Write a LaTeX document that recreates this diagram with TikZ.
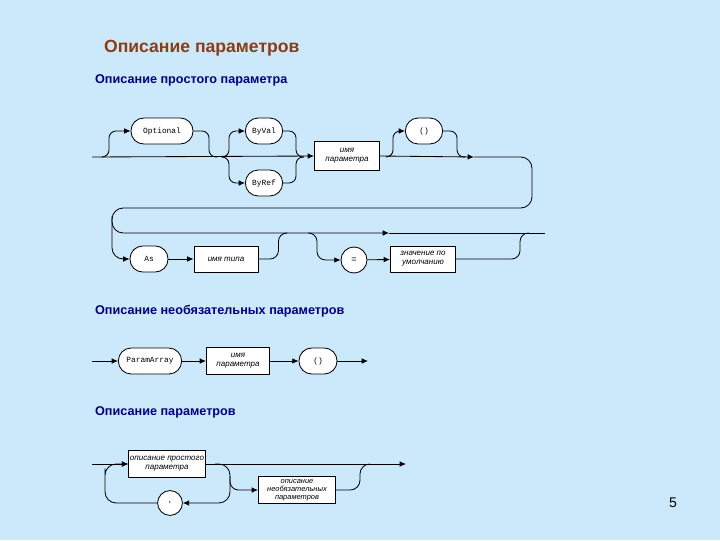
\documentclass[tikz,border=0pt]{standalone}
\usepackage{fontspec}
\setmainfont{Liberation Sans}
\setmonofont{Liberation Mono}
\usetikzlibrary{arrows.meta, calc}

\definecolor{slidebg}{RGB}{204,233,252}
\definecolor{titlebrown}{RGB}{140,60,20}
\definecolor{headnavy}{RGB}{0,0,128}

\tikzset{
    termbox/.style={draw, fill=white, rounded corners=3.2mm, minimum height=0.65cm, inner sep=1pt, font=\ttfamily\fontsize{5.6}{6}\selectfont},
    namebox/.style={draw, fill=white, minimum height=0.65cm, inner sep=1pt, align=center, font=\itshape\fontsize{5.7}{6.4}\selectfont},
    sepcirc/.style={draw, fill=white, circle, minimum size=0.65cm, inner sep=0pt, font=\fontsize{6.5}{7}\selectfont},
    flow/.style={-{Latex[length=4.5pt,width=4pt]}},
    heading/.style={anchor=west, text=headnavy, font=\bfseries\fontsize{9}{11}\selectfont}
}

\begin{document}
\begin{tikzpicture}[x=0.025cm, y=-0.025cm, line width=0.6pt, line join=round]
    % Slide background
    \fill[slidebg] (0,0) rectangle (720,540);
    \useasboundingbox (0,0) rectangle (720,540);

    % Title
    \node[anchor=west, text=titlebrown, font=\bfseries\fontsize{12.5}{14}\selectfont] (title) at (99,48) {Описание параметров};
    \node[heading] (head1) at (90,80) {Описание простого параметра};
    \node[heading] (head2) at (90,311) {Описание необязательных параметров};
    \node[heading] (head3) at (90,412) {Описание параметров};
    \node[font=\fontsize{10}{12}\selectfont] (pageno) at (673,503) {5};

    % Simple parameter
    \node[termbox, minimum width=1.55cm] (opt) at (162,131) {Optional};
    \node[termbox, minimum width=0.93cm] (byval) at (264,131) {ByVal};
    \node[termbox, minimum width=0.93cm] (byref) at (264,183) {ByRef};
    \node[namebox, minimum width=1.63cm, minimum height=0.72cm] (pname) at (347,156) {имя\\параметра};
    \node[termbox, minimum width=0.93cm] (par1) at (424,131) {()};
    \node[termbox, minimum width=0.95cm] (as) at (149,259) {As};
    \node[namebox, minimum width=1.6cm] (tname) at (226,259) {имя типа};
    \node[sepcirc] (eq) at (354,260) {=};
    \node[namebox, minimum width=1.63cm] (defval) at (423,259) {значение по\\умолчанию};

    \coordinate (start1) at (92,157);
    \coordinate (optfork) at (103,157);
    \coordinate (optjoin) at (209,157);
    \coordinate (refork) at (222,157);
    \coordinate (parfork) at (386,157);
    \coordinate (mainarr) at (474,157);
    \coordinate (wrapright) at (532,208);
    \coordinate (wrapleft) at (112,208);
    \coordinate (skipfork) at (112,216);
    \coordinate (skiparr) at (389,233);
    \coordinate (end1) at (545,233);
    \coordinate (eqfork) at (309,233);

    \draw[flow] (start1) -- (pname.west);
    \draw[flow, rounded corners=5pt] (optfork) -- ++(6,0) |- (opt.west);
    \draw[rounded corners=5pt] (opt.east) -| (optjoin) -- ++(8,0);
    \draw[flow, rounded corners=5pt] (refork) -- ++(7,0) |- (byval.west);
    \draw[flow, rounded corners=5pt] (refork) -- ++(7,0) |- (byref.west);
    \draw[rounded corners=5pt] (byval.east) -| ++(13,26) -- ++(8,0);
    \draw[rounded corners=5pt] (byref.east) -| ++(13,-26) -- ++(8,0);
    \draw[flow] (pname.east) -- (mainarr);
    \draw[flow, rounded corners=5pt] (parfork) -- ++(7,0) |- (par1.west);
    \draw[rounded corners=5pt] (par1.east) -| ++(14,26) -- ++(8,0);
    \draw[flow, rounded corners=8pt] (mainarr) -| (wrapright) -- (wrapleft) |- (as.west);
    \draw[flow, rounded corners=8pt] (skipfork) |- (skiparr);
    \draw (skiparr) -- (end1);
    \draw[flow] (as) -- (tname);
    \draw[rounded corners=6pt] (tname.east) -| ++(20,-26) -- ++(8,0);
    \draw[flow, rounded corners=6pt] (eqfork) -- ++(8,0) |- (eq.west);
    \draw[flow] (eq) -- (defval);
    \draw[rounded corners=6pt] (defval.east) -| ++(64,-26) -- ++(8,0);

    % Optional parameters
    \node[termbox, minimum width=1.58cm] (parr) at (150,361) {ParamArray};
    \node[namebox, minimum width=1.58cm, minimum height=0.68cm] (pname2) at (238,361) {имя\\параметра};
    \node[termbox, minimum width=0.95cm] (par2) at (318,361) {()};
    \coordinate (start2) at (92,361);
    \coordinate (end2) at (368,361);

    \draw[flow] (start2) -- (parr);
    \draw[flow] (parr) -- (pname2);
    \draw[flow] (pname2) -- (par2);
    \draw[flow] (par2) -- (end2);

    % Parameters
    \node[namebox, minimum width=1.88cm, minimum height=0.68cm] (simple) at (167,464) {описание простого\\параметра};
    \node[sepcirc, minimum size=0.62cm] (comma) at (170,503) {,};
    \node[namebox, minimum width=1.93cm, minimum height=0.66cm, font=\itshape\fontsize{5.3}{5.7}\selectfont] (optdesc) at (297,490) {описание\\необязательных\\параметров};
    \coordinate (start3) at (92,464);
    \coordinate (end3) at (406,464);
    \coordinate (loopfork) at (215,464);
    \coordinate (loopdown) at (230,503);
    \coordinate (loopup) at (105,480);
    \coordinate (optfork3) at (230,476);

    \draw[flow] (start3) -- (simple.west);
    \draw[flow] (simple) -- (end3);
    \draw[flow, rounded corners=8pt] (loopfork) -| (loopdown) -- (comma);
    \draw[flow, rounded corners=8pt] (comma.west) -| (loopup) |- (simple.west);
    \draw[flow, rounded corners=6pt] (optfork3) |- (optdesc.west);
    \draw[rounded corners=7pt] (optdesc.east) -| ++(24,-26) -- ++(10,0);
\end{tikzpicture}
\end{document}
